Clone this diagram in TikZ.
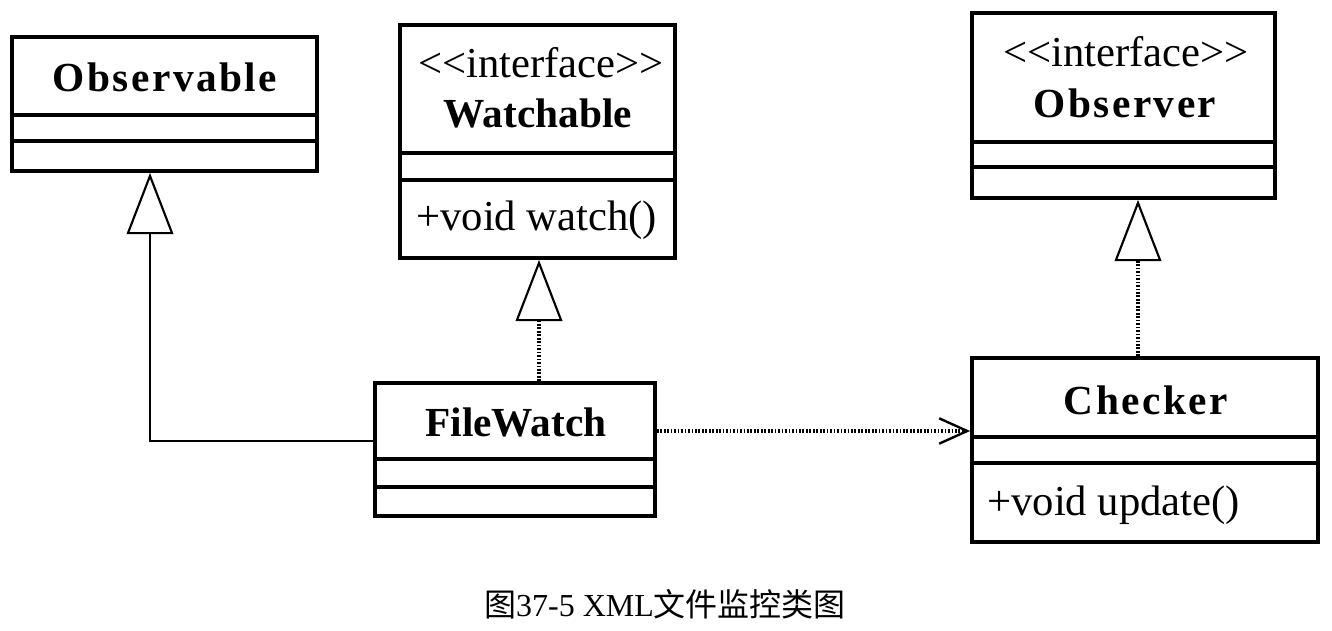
\documentclass[tikz,border=0pt]{standalone}
\usepackage{fontspec}
\setmainfont{Liberation Serif}
\newfontfamily\spacedbf[LetterSpace=6]{Liberation Serif}
\newfontfamily\cjk{Noto Sans CJK SC}
\usetikzlibrary{arrows.meta,fit,calc}
\begin{document}
\begin{tikzpicture}[x=0.75pt,y=-0.75pt,
  cls/.style={draw,line width=2.8pt,inner sep=0pt,fill=none},
  sep/.style={line width=2.6pt},
  cname/.style={font=\fontsize{31}{36}\selectfont\bfseries,inner sep=0pt},
  stereo/.style={font=\fontsize{32}{36}\selectfont,inner sep=0pt},
  member/.style={font=\fontsize{32}{36}\selectfont,inner sep=0pt,anchor=west},
  conn/.style={line width=1.6pt},
  dotl/.style={line width=2.6pt,dash pattern=on 1.3pt off 1.3pt},
  gen/.style={-{Triangle[open,length=46pt,width=35pt,line width=1.6pt]}},
  dep/.style={-{Straight Barb[length=21pt,width=19pt,line width=1.8pt]}}
]
\useasboundingbox (0,0) rectangle (1332,631);
% Observable
\node[cls,fit={(12,37) (317,171)}] (obs) {};
\draw[sep] (12,115) -- (317,115);
\draw[sep] (12,141) -- (317,141);
\node[cname,font=\fontsize{31}{36}\selectfont\spacedbf\bfseries] (obsname) at (165,77) {Observable};
% Watchable
\node[cls,fit={(400,25) (675,258)}] (wat) {};
\draw[sep] (400,153) -- (675,153);
\draw[sep] (400,180) -- (675,180);
\node[stereo] (watst) at (541,63) {<{}<interface>{}>};
\node[cname] (watname) at (538,113) {Watchable};
\node[member] (watm) at (416,220) {+void watch()};
% Observer
\node[cls,fit={(972,13) (1275,198)}] (obsr) {};
\draw[sep] (972,142) -- (1275,142);
\draw[sep] (972,167) -- (1275,167);
\node[stereo] (obsrst) at (1126,52) {<{}<interface>{}>};
\node[cname,font=\fontsize{31}{36}\selectfont\spacedbf\bfseries] (obsrname) at (1125,103) {Observer};
% FileWatch
\node[cls,fit={(375,383) (655,516)}] (fw) {};
\draw[sep] (375,459) -- (655,459);
\draw[sep] (375,487) -- (655,487);
\node[cname] (fwname) at (516,422) {FileWatch};
% Checker
\node[cls,fit={(972,358) (1318,542)}] (chk) {};
\draw[sep] (972,437) -- (1318,437);
\draw[sep] (972,463) -- (1318,463);
\node[cname,font=\fontsize{31}{36}\selectfont\spacedbf\bfseries] (chkname) at (1146,400) {Checker};
\node[member] (chkm) at (987,505) {+void update()};
% connectors
\coordinate (bend) at (150,441);
\coordinate (wx) at (539,0);
\coordinate (ox) at (1138,0);
\coordinate (dy) at (0,431);
\draw[conn,gen] (fw.west |- bend) -- (bend) -- (obs.south -| bend);
\draw[dotl,gen] (fw.north -| wx) -- (wat.south -| wx);
\draw[dotl,gen] (chk.north -| ox) -- (obsr.south -| ox);
\draw[dotl,dep] (fw.east |- dy) -- (chk.west |- dy);
% caption
\node[inner sep=0pt,font=\fontsize{24}{28}\selectfont] (cap) at (665,604) {{\cjk 图}37-5 XML{\cjk 文件监控类图}};
\end{tikzpicture}
\end{document}
